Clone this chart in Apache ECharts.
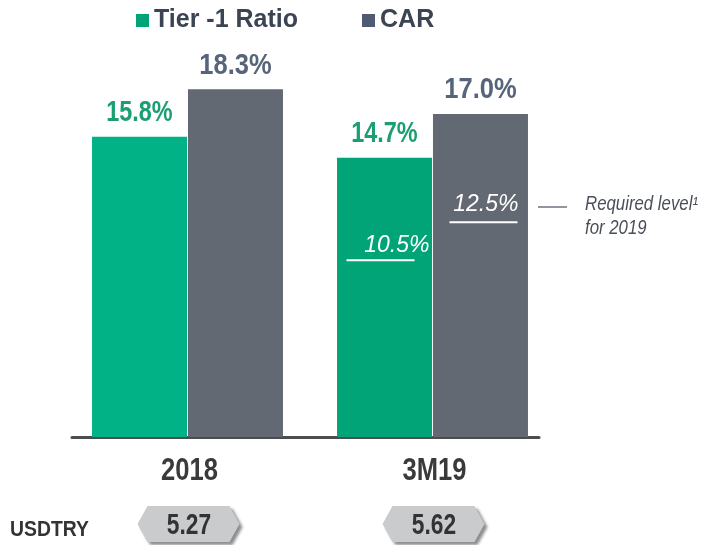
<!DOCTYPE html>
<html>
<head>
<meta charset="utf-8">
<script src="https://cdn.jsdelivr.net/npm/echarts@6/dist/echarts.min.js"></script>
<style>
  html, body { margin: 0; padding: 0; background: #fff; }
  #chart { width: 702px; height: 545px; }
</style>
</head>
<body>
<div id="chart"></div>
<script>
// data
const categories = ['2018', '3M19']
const tier1 = [15.8, 14.7]
const car = [18.3, 17.0]
const usdtry = ['5.27', '5.62']
// required level lines (3M19 only), drawn where the picture puts them on the scale
const reqLabels = ['10.5%', '12.5%']
const reqLinePos = [9.3, 11.3]
const reqSide = ['tier', 'car']

const sans = '"Liberation Sans", Arial, sans-serif'

const tierColors = ['#00b285', '#00a477']
const carColor = '#626973'

let chart = echarts.init(document.getElementById('chart'))

// white required-level marks inside the 3M19 bars
function renderReq (params, api) {
  const pt = api.coord([api.value(0), api.value(1)])
  const side = reqSide[params.dataIndex]
  const x0 = side === 'tier' ? -86 : 17
  const x1 = side === 'tier' ? -18 : 85
  const tx = side === 'tier' ? -3 : 86
  const ty = side === 'tier' ? -15 : -18
  return {
    type: 'group',
    children: [
      {
        type: 'line',
        shape: { x1: pt[0] + x0, y1: pt[1], x2: pt[0] + x1, y2: pt[1] },
        style: { stroke: '#fff', lineWidth: 2 }
      },
      {
        type: 'text',
        style: {
          text: reqLabels[params.dataIndex],
          x: pt[0] + tx,
          y: pt[1] + ty,
          align: 'right',
          verticalAlign: 'middle',
          fill: '#fff',
          font: 'italic 23px ' + sans
        }
      }
    ]
  }
}

// value labels on top of the bars (condensed look via scaleX)
function renderVal (params, api) {
  const s = api.value(2)
  const v = api.value(1)
  const pt = api.coord([api.value(0), v])
  return {
    type: 'text',
    x: pt[0] + (s === 0 ? -48 : 48),
    y: pt[1] - 24,
    scaleX: s === 0 ? 0.78 : 0.85,
    style: {
      text: v.toFixed(1) + '%',
      x: 0,
      y: 0,
      align: 'center',
      verticalAlign: 'middle',
      font: 'bold 30px ' + sans,
      fill: s === 0 ? '#1a9e72' : '#56657a'
    }
  }
}

let valData = []
categories.forEach((c, i) => {
  valData.push([i, tier1[i], 0])
  valData.push([i, car[i], 1])
})

let options = {
  animation: false,
  legend: {
    top: 3,
    left: 131,
    itemWidth: 13,
    itemHeight: 13,
    itemGap: 64,
    icon: 'rect',
    textStyle: { fontFamily: sans, fontWeight: 'bold', fontSize: 25, color: '#3b4452' },
    data: [
      { name: 'Tier -1 Ratio', itemStyle: { color: '#00a477' } },
      { name: 'CAR', itemStyle: { color: '#4e5b73' } }
    ]
  },
  grid: [
    { left: 65, right: 147, top: 57, bottom: 108 },
    { left: 72, right: 163, top: 57, bottom: 108 }
  ],
  xAxis: [
    {
      type: 'category',
      gridIndex: 0,
      data: categories,
      axisLine: { show: false },
      axisTick: { show: false },
      axisLabel: { show: false }
    },
    {
      type: 'value',
      gridIndex: 1,
      min: 0,
      max: 1,
      axisLine: { show: true, lineStyle: { color: '#4d4d4d', width: 3 } },
      axisTick: { show: false },
      axisLabel: { show: false },
      splitLine: { show: false }
    }
  ],
  yAxis: [
    { type: 'value', gridIndex: 0, min: 0, max: 20, show: false },
    { type: 'value', gridIndex: 1, min: 0, max: 20, show: false }
  ],
  series: [
    {
      name: 'Tier -1 Ratio',
      type: 'bar',
      barWidth: 95,
      barGap: '1%',
      data: tier1.map((v, i) => ({ value: v, itemStyle: { color: tierColors[i] } }))
    },
    {
      name: 'CAR',
      type: 'bar',
      barWidth: 95,
      itemStyle: { color: carColor },
      data: car
    },
    {
      name: 'values',
      type: 'custom',
      renderItem: renderVal,
      clip: false,
      z: 5,
      encode: { x: 0, y: 1 },
      data: valData
    },
    {
      name: 'req',
      type: 'custom',
      renderItem: renderReq,
      clip: false,
      z: 5,
      encode: { x: 0, y: 1 },
      data: reqLinePos.map(v => ['3M19', v])
    }
  ]
}
chart.setOption(options)

// category labels, USDTRY hexagons and the side note
function drawExtras () {
  const cy = 524
  const graphics = [
    {
      type: 'text',
      x: 10,
      y: 529.5,
      scaleX: 0.88,
      style: { text: 'USDTRY', font: 'bold 22px ' + sans, fill: '#333', verticalAlign: 'middle' }
    },
    {
      type: 'line',
      shape: { x1: 538, y1: 207, x2: 567, y2: 207 },
      style: { stroke: '#6b7280', lineWidth: 1.5 }
    },
    {
      type: 'text',
      x: 585,
      y: 204,
      scaleX: 0.84,
      style: { text: 'Required level\u00b9', font: 'italic 20px ' + sans, fill: '#4a4f57', verticalAlign: 'middle' }
    },
    {
      type: 'text',
      x: 585,
      y: 228.5,
      scaleX: 0.84,
      style: { text: 'for 2019', font: 'italic 20px ' + sans, fill: '#4a4f57', verticalAlign: 'middle' }
    }
  ]
  const base = chart.convertToPixel({ yAxisIndex: 0 }, 0)
  categories.forEach((c, i) => {
    const cx = chart.convertToPixel({ xAxisIndex: 0 }, c)
    graphics.push({
      type: 'text',
      x: cx + 2,
      y: base + 34.5,
      scaleX: 0.8,
      style: { text: c, font: 'bold 32px ' + sans, fill: '#3a3a3a', align: 'center', verticalAlign: 'middle' }
    })
    graphics.push({
      type: 'polygon',
      shape: {
        points: [[cx - 50, cy], [cx - 40, cy - 18], [cx + 42, cy - 18], [cx + 52, cy], [cx + 42, cy + 18], [cx - 40, cy + 18]]
      },
      style: {
        fill: '#c9cbcd',
        shadowBlur: 3,
        shadowOffsetX: 3,
        shadowOffsetY: 3,
        shadowColor: 'rgba(0,0,0,0.45)'
      }
    })
    graphics.push({
      type: 'text',
      x: cx + 1.5,
      y: cy + 2,
      scaleX: 0.76,
      style: {
        text: usdtry[i],
        font: 'bold 30px ' + sans,
        fill: '#333',
        align: 'center',
        verticalAlign: 'middle'
      }
    })
  })
  chart.setOption({ graphic: graphics })
}
drawExtras()
</script>
</body>
</html>
